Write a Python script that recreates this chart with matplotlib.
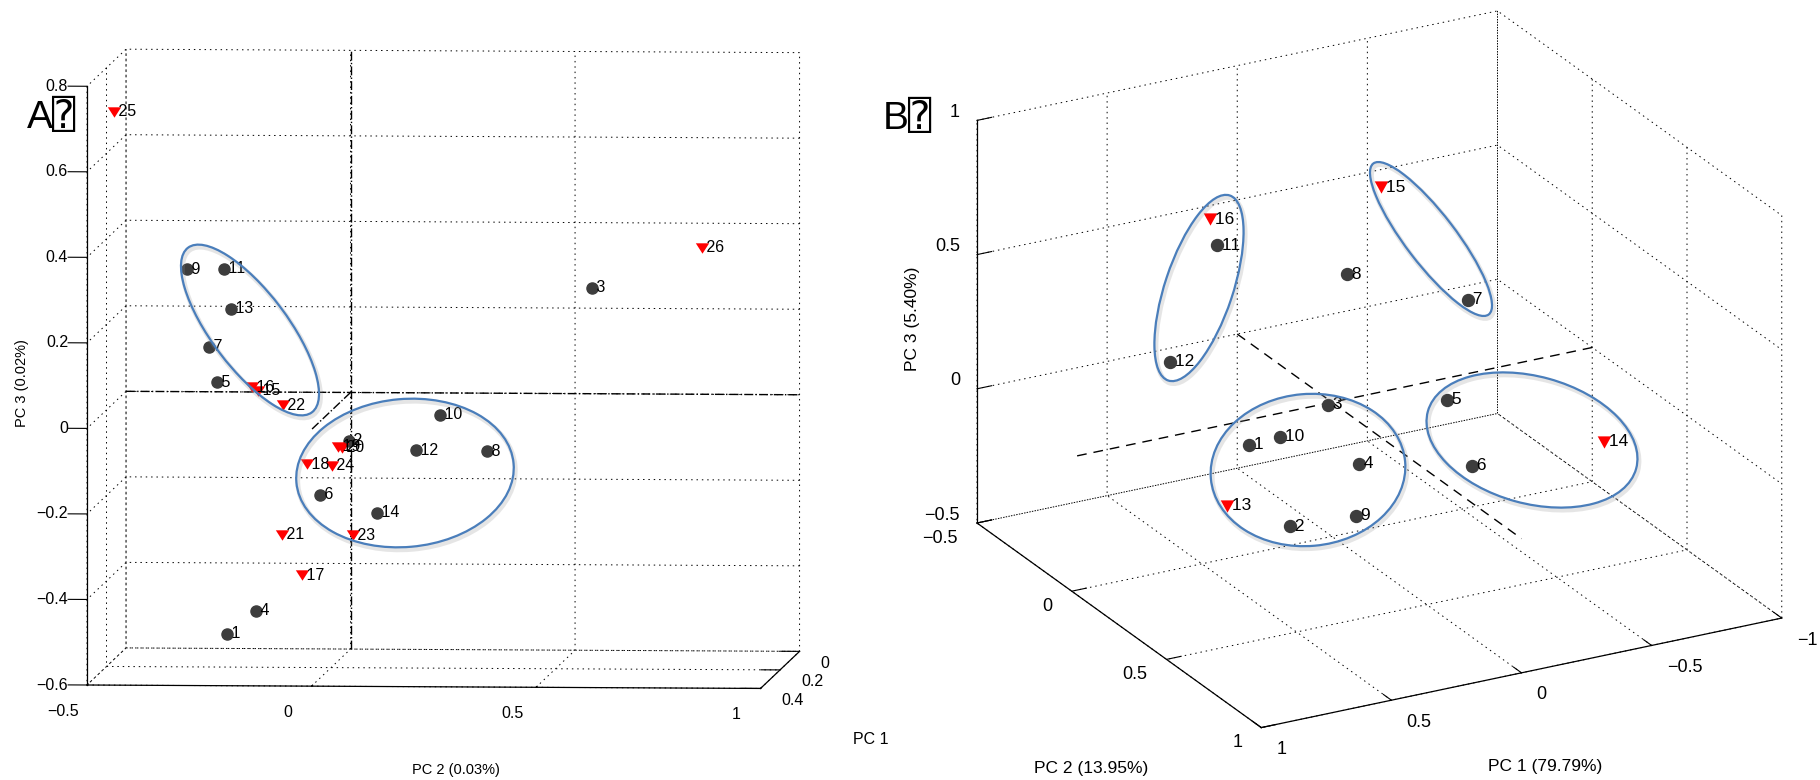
import numpy as np
import matplotlib
matplotlib.use("Agg")
import matplotlib.pyplot as plt
from matplotlib.patches import Ellipse
from matplotlib.ticker import NullFormatter

plt.rcParams['font.family'] = ['Liberation Sans', 'DejaVu Sans', 'DejaVu Sans Mono']

W, H = 1820, 780

# ---------------- panel A : 26 samples (1-14 dots, 15-26 triangles) ----------------
a_ids = [str(i) for i in range(1, 27)]
a_pc1 = [0.30, 0.15, 0.10, 0.28, 0.22, 0.18, 0.25, 0.12, 0.20, 0.14, 0.24, 0.16, 0.21,
         0.19, 0.26, 0.27, 0.31, 0.22, 0.17, 0.18, 0.29, 0.23, 0.20, 0.19, 0.35, 0.08]
a_pc2 = [-0.21, 0.03, 0.56, -0.15, -0.25, -0.03, -0.26, 0.33, -0.32, 0.23, -0.23, 0.18, -0.22,
         0.10, -0.15, -0.16, -0.04, -0.05, 0.01, 0.02, -0.09, -0.10, 0.05, 0.00, -0.45, 0.80]
a_pc3 = [-0.50, -0.08, 0.27, -0.45, 0.07, -0.20, 0.16, -0.11, 0.33, -0.02, 0.34, -0.10, 0.24,
         -0.24, 0.06, 0.07, -0.36, -0.12, -0.09, -0.09, -0.27, 0.02, -0.29, -0.13, 0.73, 0.36]
a_ndots = 14
a_lim_pc1 = (0.4, 0.0)
a_lim_pc2 = (-0.5, 1.0)
a_lim_pc3 = (-0.6, 0.8)
a_ticks_pc1 = [0, 0.2, 0.4]
a_ticks_pc2 = [-0.5, 0, 0.5, 1]
a_ticks_pc3 = [-0.6, -0.4, -0.2, 0, 0.2, 0.4, 0.6, 0.8]

# ---------------- panel B : 16 samples (1-12 dots, 13-16 triangles) ----------------
b_ids = [str(i) for i in range(1, 17)]
b_pc1 = [0.61, 0.67, 0.09, 0.15, -0.44, -0.32, -0.45, -0.13, 0.31, 0.42, 0.26, 0.77,
         0.84, -0.90, -0.48, 0.25]
b_pc2 = [0.40, 0.70, 0.10, 0.35, 0.00, 0.30, 0.10, -0.10, 0.55, 0.30, -0.25, 0.20,
         0.60, 0.20, -0.40, -0.30]
b_pc3 = [0.17, 0.03, 0.06, -0.02, -0.08, -0.15, 0.34, 0.40, -0.08, 0.11, 0.51, 0.41,
         0.09, -0.23, 0.50, 0.58]
b_ndots = 12
b_lim_pc1 = (-1.0, 1.0)
b_lim_pc2 = (-0.5, 1.0)
b_lim_pc3 = (-0.5, 1.0)
b_ticks_pc1 = [-1, -0.5, 0, 0.5, 1]
b_ticks_pc2 = [-0.5, 0, 0.5, 1]
b_ticks_pc3 = [-0.5, 0, 0.5, 1]

DOT = '#3d3d3d'
TRI = '#ff0000'
RING = '#4a7ebb'


def fmt(v):
    v = round(v, 6) + 0.0
    return ('%g' % v).replace('-', '\u2212')


def style_axes(ax):
    ax.set_facecolor('none')
    for axis in (ax.xaxis, ax.yaxis, ax.zaxis):
        axis.set_pane_color((1, 1, 1, 0))
        axis._axinfo['grid'].update(color='k', linewidth=0.7, linestyle=(0, (1.5, 4)))
        axis._axinfo['tick']['inward_factor'] = 0.0
        axis._axinfo['tick']['outward_factor'] = 0.35
        axis.line.set_color('k')
        axis.line.set_linewidth(0.9)
        axis.set_major_formatter(NullFormatter())


def project(ax, x, y, z):
    # 3d data -> 2d data coords of the 3d axes
    v = ax.get_proj() @ np.array([x, y, z, 1.0])
    return v[0] / v[3], v[1] / v[3]


def fit_box(fig, ax, p_a, p_b, t_a, t_b):
    # move / scale the 3d axes so two box corners land on the wanted pixels
    fig.canvas.draw()
    da = ax.transData.transform(project(ax, *p_a))
    db = ax.transData.transform(project(ax, *p_b))
    ta = np.array([t_a[0], H - t_a[1]], float)
    tb = np.array([t_b[0], H - t_b[1]], float)
    k = np.hypot(*(tb - ta)) / np.hypot(*(db - da))
    bb = ax.get_position()
    org = np.array([bb.x0 * W, bb.y0 * H])
    side = bb.width * W
    new = ta - k * (da - org)
    ax.set_position([new[0] / W, new[1] / H, side * k / W, side * k / H])


def tick_text(ax, pts, values, dx, dy, ha, fs):
    # matlab-like tick labels, pushed off the axis edge by (dx, dy) pixels
    for p, v in zip(pts, values):
        ax.annotate(fmt(v), project(ax, *p), xycoords='data', xytext=(dx, -dy),
                    textcoords='offset pixels', ha=ha, va='center', fontsize=fs,
                    annotation_clip=False)


def scatter_labels(ax, xs, ys, zs, ids, ndots, ms_dot, ms_tri, tri, fs):
    for i in range(len(ids)):
        if i < ndots:
            ax.plot([xs[i]], [ys[i]], [zs[i]], 'o', ms=ms_dot, color=DOT, mec=DOT, zorder=5)
        else:
            ax.plot([xs[i]], [ys[i]], [zs[i]], marker=tri, ms=ms_tri, color=TRI,
                    mec='none', ls='none', zorder=5)
        x2, y2 = project(ax, xs[i], ys[i], zs[i])
        ax.text2D(x2, y2, ' ' + ids[i], transform=ax.transData, fontsize=fs,
                  ha='left', va='center', zorder=6)


def ring(ov, c, w, h, ang):
    x, y = c[0], H - c[1]
    ov.add_patch(Ellipse((x + 1.5, y - 2.5), w, h, angle=ang, fill=False,
                         ec='0.55', lw=3.5, alpha=0.22))
    ov.add_patch(Ellipse((x, y), w, h, angle=ang, fill=False, ec=RING, lw=1.6))


def main():
    fig = plt.figure(figsize=(W / 100, H / 100), dpi=100)

    tri_a = [(-1, 0.78), (1, 0.78), (0, -0.78), (-1, 0.78)]
    tri_b = [(-1, 0.9), (1, 0.9), (0, -0.9), (-1, 0.9)]

    # ---- panel A ----
    axA = fig.add_axes([60 / W, 40 / H, 700 / W, 700 / H], projection='3d',
                       proj_type='ortho', computed_zorder=False)
    axA.set_xlim(*a_lim_pc2)
    axA.set_ylim(*a_lim_pc1)
    axA.set_zlim(*a_lim_pc3)
    axA.set_xticks(a_ticks_pc2)
    axA.set_yticks(a_ticks_pc1)
    axA.set_zticks(a_ticks_pc3)
    axA.set_box_aspect((674, 532, 599))
    axA.view_init(elev=4.0, azim=-85.8)
    style_axes(axA)
    axA.zaxis.set_ticks_position('upper')

    # origin reference lines
    axA.plot(list(a_lim_pc2), [0, 0], [0, 0], ls='-.', color='k', lw=1.0, zorder=3)
    axA.plot([0, 0], [0, 0], list(a_lim_pc3), ls='-.', color='k', lw=1.0, zorder=3)
    axA.plot([0, 0], [0, max(a_lim_pc1)], [0, 0], ls='-.', color='k', lw=1.0, zorder=3)

    scatter_labels(axA, a_pc2, a_pc1, a_pc3, a_ids, a_ndots, 8.0, 9.6, tri_a, 11.5)

    front, bottom, left, right = max(a_lim_pc1), min(a_lim_pc3), min(a_lim_pc2), max(a_lim_pc2)
    tick_text(axA, [(v, front, bottom) for v in a_ticks_pc2], a_ticks_pc2, -24, 26, 'center', 11.5)
    tick_text(axA, [(right, v, bottom) for v in a_ticks_pc1], a_ticks_pc1, 21, 12, 'left', 11.5)
    tick_text(axA, [(left, front, v) for v in a_ticks_pc3], a_ticks_pc3, -19, 0, 'right', 11.5)

    # ---- panel B ----
    axB = fig.add_axes([1000 / W, 40 / H, 700 / W, 700 / H], projection='3d',
                       proj_type='ortho', computed_zorder=False)
    axB.set_xlim(*b_lim_pc1)
    axB.set_ylim(*b_lim_pc2)
    axB.set_zlim(*b_lim_pc3)
    axB.set_xticks(b_ticks_pc1)
    axB.set_yticks(b_ticks_pc2)
    axB.set_zticks(b_ticks_pc3)
    axB.set_box_aspect((593, 599, 438))
    axB.view_init(elev=22.9, azim=61.6)
    style_axes(axB)

    axB.plot(list(b_lim_pc1), [0, 0], [0, 0], color='k', lw=1.0, dashes=(7, 5), zorder=3)
    axB.plot([0, 0], list(b_lim_pc2), [0, 0], color='k', lw=1.0, dashes=(7, 5), zorder=3)

    scatter_labels(axB, b_pc1, b_pc2, b_pc3, b_ids, b_ndots, 8.6, 9.8, tri_b, 12.5)

    x1, y0, y1, z0 = max(b_lim_pc1), min(b_lim_pc2), max(b_lim_pc2), min(b_lim_pc3)
    tick_text(axB, [(v, y1, z0) for v in b_ticks_pc1], b_ticks_pc1, 15, 22, 'left', 13)
    tick_text(axB, [(x1, v, z0) for v in b_ticks_pc2], b_ticks_pc2, -19, 15, 'right', 13)
    tick_text(axB, [(x1, y0, v) for v in b_ticks_pc3], b_ticks_pc3, -17, -8, 'right', 13)

    # place the boxes where the original ones sit
    fit_box(fig, axA, (-0.5, 0.4, -0.6), (1.0, 0.0, 0.8), (87, 685), (799, 52))
    fit_box(fig, axB, (1.0, -0.5, -0.5), (-1.0, 1.0, -0.5), (977, 523), (1782, 616))

    # axis titles
    fig.text(456 / W, 1 - 770 / H, 'PC 2 (0.03%)', ha='center', va='center', fontsize=10.5)
    fig.text(871 / W, 1 - 740 / H, 'PC 1', ha='center', va='center', fontsize=11.5)
    fig.text(22 / W, 1 - 383 / H, 'PC 3 (0.02%)', ha='center', va='center', fontsize=10.5,
             rotation=90)
    fig.text(1091 / W, 1 - 769 / H, 'PC 2 (13.95%)', ha='center', va='center', fontsize=12.5)
    fig.text(1545 / W, 1 - 766 / H, 'PC 1 (79.79%)', ha='center', va='center', fontsize=12.5)
    fig.text(912 / W, 1 - 319 / H, 'PC 3 (5.40%)', ha='center', va='center', fontsize=12.5,
             rotation=90)

    # panel letters
    fig.text(27 / W, 1 - 128 / H, 'A\u2370', ha='left', va='baseline', fontsize=28)
    fig.text(883 / W, 1 - 129 / H, 'B\u2370', ha='left', va='baseline', fontsize=28)

    # hand-drawn group rings
    ov = fig.add_axes([0, 0, 1, 1])
    ov.set_xlim(0, W)
    ov.set_ylim(0, H)
    ov.axis('off')
    ov.set_zorder(10)
    ov.patch.set_alpha(0)
    ring(ov, (250, 330), 206, 76, -53)
    ring(ov, (405, 473), 218, 148, 5)
    ring(ov, (1199, 288), 195, 68, 71.6)
    ring(ov, (1431, 239), 190, 50, -52.6)
    ring(ov, (1308, 470), 195, 152, 5)
    ring(ov, (1532, 440), 216, 127, -15.4)

    fig.savefig('out.png', dpi=100)


if __name__ == "__main__":
    main()
